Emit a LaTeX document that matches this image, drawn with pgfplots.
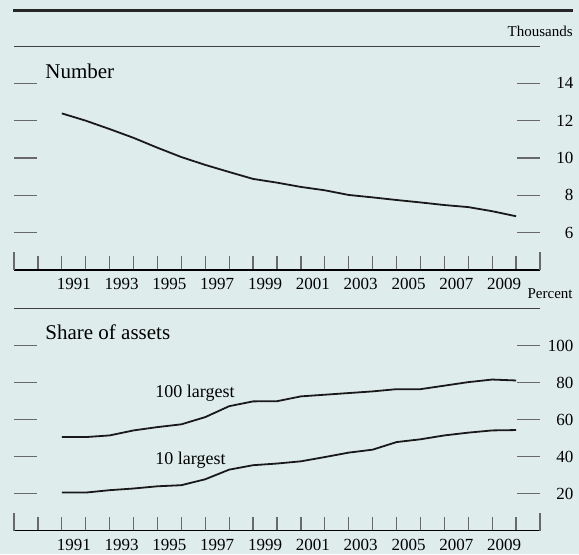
\documentclass[border=0pt]{standalone}
\usepackage{fontspec}
\setmainfont{Liberation Serif}
\usepackage{pgfplots}
\pgfplotsset{compat=1.18}

\definecolor{bg}{RGB}{223,236,236}
\definecolor{tk}{RGB}{105,105,105}

% one panel of the two-panel chart (1px = 0.5pt)
\pgfplotsset{
  panel/.style={
    scale only axis, width=263pt, anchor=south west,
    xmin=1988.5, xmax=2010.5,
    axis line style={draw=none},
    xtick={1991,1993,...,2009},
    minor xtick={1989.5,1990.5,...,2009.5},
    tick align=inside,
    minor tick length=7pt, major tick length=11.5pt,
    xtick pos=bottom, ytick pos=both, yticklabel pos=right,
    tick style={tk, line width=0.6pt},
    major x tick style={draw=none},
    /pgf/number format/assume math mode=true,
    /pgf/number format/1000 sep={},
    tick label style={font=\fontsize{8.5}{10}\selectfont, inner sep=0pt},
    xticklabel style={anchor=north, yshift=-4pt},
    yticklabel style={anchor=west, text width=14pt, align=right, xshift=2.5pt},
    clip=false,
  },
}

\begin{document}
\begin{tikzpicture}
\fill[bg] (0,0) rectangle (289.5pt,277pt);
\draw[line width=1.5pt, black!85] (6.5pt,272pt) -- (286.5pt,272pt);

\node[anchor=base east, inner sep=0pt, font=\fontsize{7.5}{9}\selectfont] at (286.5pt,258.75pt) {Thousands};
\node[anchor=base east, inner sep=0pt, font=\fontsize{7.5}{9}\selectfont] at (286.5pt,128pt) {Percent};
\node[anchor=base west, inner sep=0pt, font=\fontsize{10.5}{12}\selectfont] at (22.5pt,238pt) {Number};
\node[anchor=base west, inner sep=0pt, font=\fontsize{10.5}{12}\selectfont] at (22.5pt,107.5pt) {Share of assets};
\node[anchor=base west, inner sep=0pt, font=\fontsize{9}{11}\selectfont] at (77.5pt,78.15pt) {100 largest};
\node[anchor=base west, inner sep=0pt, font=\fontsize{9}{11}\selectfont] at (77.5pt,44.85pt) {10 largest};

% top panel: number of banks, thousands
\begin{axis}[panel, at={(7pt,142pt)}, height=112pt,
    ymin=4, ymax=16, ytick={6,8,...,14}]
\draw[black, line width=0.6pt] (rel axis cs:0,0) -- (rel axis cs:1,0);
\draw[black!75, line width=0.5pt] (rel axis cs:0,1) -- (rel axis cs:1,1);
\draw[tk, line width=0.6pt] (rel axis cs:0,0) -- ++(0pt,9pt);
\draw[tk, line width=0.6pt] (rel axis cs:1,0) -- ++(0pt,9pt);
\addplot[black!90, line width=0.9pt] coordinates {
  (1990.5,12.39) (1991.5,12.00) (1992.5,11.55) (1993.5,11.08) (1994.5,10.55)
  (1995.5,10.05) (1996.5,9.63) (1997.5,9.25) (1998.5,8.88) (1999.5,8.68)
  (2000.5,8.45) (2001.5,8.27) (2002.5,8.02) (2003.5,7.89) (2004.5,7.75)
  (2005.5,7.62) (2006.5,7.48) (2007.5,7.37) (2008.5,7.15) (2009.5,6.88)
};
\end{axis}

% bottom panel: share of assets, percent
\begin{axis}[panel, at={(7pt,11.75pt)}, height=111pt,
    ymin=0, ymax=120, ytick={20,40,...,100}]
\draw[black, line width=0.6pt] (rel axis cs:0,0) -- (rel axis cs:1,0);
\draw[black!75, line width=0.5pt] (rel axis cs:0,1) -- (rel axis cs:1,1);
\draw[tk, line width=0.6pt] (rel axis cs:0,0) -- ++(0pt,9pt);
\draw[tk, line width=0.6pt] (rel axis cs:1,0) -- ++(0pt,9pt);
% 100 largest
\addplot[black!90, line width=0.9pt] coordinates {
  (1990.5,50.5) (1991.5,50.5) (1992.5,51.4) (1993.5,54.1) (1994.5,55.9)
  (1995.5,57.4) (1996.5,61.3) (1997.5,67.2) (1998.5,69.8) (1999.5,69.9)
  (2000.5,72.5) (2001.5,73.4) (2002.5,74.3) (2003.5,75.2) (2004.5,76.4)
  (2005.5,76.4) (2006.5,78.3) (2007.5,80.2) (2008.5,81.6) (2009.5,81.1)
};
% 10 largest
\addplot[black!90, line width=0.9pt] coordinates {
  (1990.5,20.5) (1991.5,20.5) (1992.5,21.8) (1993.5,22.7) (1994.5,23.9)
  (1995.5,24.5) (1996.5,27.7) (1997.5,32.9) (1998.5,35.3) (1999.5,36.2)
  (2000.5,37.4) (2001.5,39.7) (2002.5,42.1) (2003.5,43.7) (2004.5,47.8)
  (2005.5,49.3) (2006.5,51.4) (2007.5,52.9) (2008.5,54.1) (2009.5,54.3)
};
\end{axis}

\pgfresetboundingbox
\path (0,0) rectangle (289.5pt,277pt);
\end{tikzpicture}
\end{document}
